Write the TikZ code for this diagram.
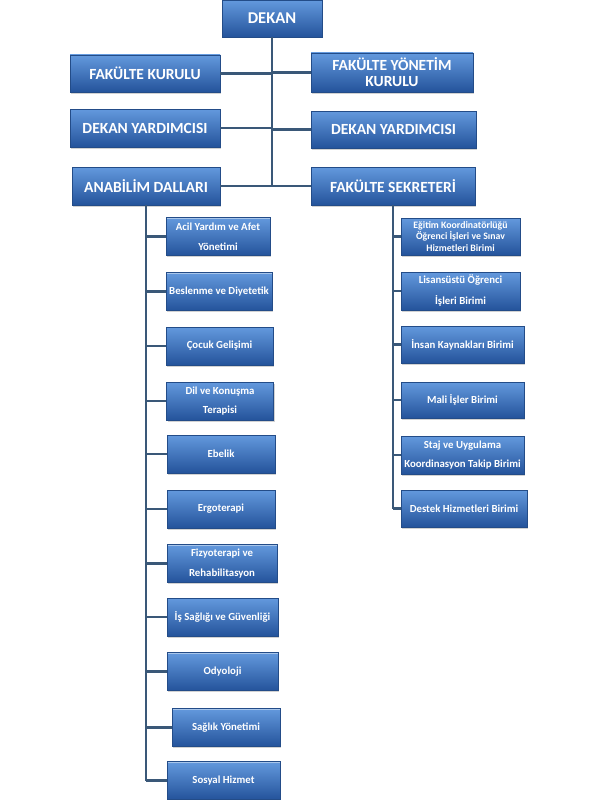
\documentclass[tikz,border=0pt]{standalone}
\usepackage{fontspec}
\setmainfont{Carlito}
\usetikzlibrary{shadows}
\definecolor{boxtop}{HTML}{6399DD}
\definecolor{boxmid}{HTML}{3A73C2}
\definecolor{boxbot}{HTML}{24539B}
\definecolor{boxedge}{HTML}{234C88}
\definecolor{conncol}{HTML}{3A5878}
\tikzset{
  box/.style={rectangle, top color=boxtop, middle color=boxmid, bottom color=boxbot,
    draw=boxedge, line width=0.6pt, text=white, align=center, inner sep=1pt,
    drop shadow={shadow xshift=1.2pt, shadow yshift=-1.5pt, opacity=0.35},
    path picture={\draw[white, opacity=0.45, line width=1pt]
      ([yshift=-0.6pt]path picture bounding box.north west) -- ([yshift=-0.6pt]path picture bounding box.north east);}},
  bigbox/.style={box, font=\fontsize{15.5}{16}\selectfont\bfseries},
  smallbox/.style={box, minimum height=38pt, font=\fontsize{10.8}{19.5}\selectfont\bfseries},
  conn/.style={draw=conncol, line width=2.6pt}
}
\begin{document}
\begin{tikzpicture}[x=1pt,y=-1pt]
\fill[white] (0,0) rectangle (600,800);
\useasboundingbox (0,0) rectangle (600,800);

% header boxes
\node[bigbox, minimum width=100pt, minimum height=37pt, font=\fontsize{16.5}{18}\selectfont\bfseries] (dekan) at (272,18.5) {DEKAN};
\node[bigbox, minimum width=150pt, minimum height=37pt] (fk) at (145,73.5) {FAKÜLTE KURULU};
\node[bigbox, minimum width=162pt, minimum height=39pt, font=\fontsize{15.5}{16}\selectfont\bfseries] (fyk) at (392,72.5) {FAKÜLTE YÖNETİM\\KURULU};
\node[bigbox, minimum width=150pt, minimum height=38pt] (dy1) at (145,128) {DEKAN YARDIMCISI};
\node[bigbox, minimum width=165pt, minimum height=37pt] (dy2) at (393.5,129.5) {DEKAN YARDIMCISI};
\node[bigbox, minimum width=148pt, minimum height=38pt] (ad) at (146,186) {ANABİLİM DALLARI};
\node[bigbox, minimum width=164pt, minimum height=38pt] (fs) at (393,186) {FAKÜLTE SEKRETERİ};

% left column boxes
\node[smallbox, minimum width=104pt] (acil) at (218,236.5) {Acil Yardım ve Afet\\Yönetimi};
\node[smallbox, minimum width=106pt] (bes) at (219,291.5) {Beslenme ve Diyetetik};
\node[smallbox, minimum width=107pt] (coc) at (219.5,346) {Çocuk Gelişimi};
\node[smallbox, minimum width=107pt] (dil) at (220,401) {Dil ve Konuşma\\Terapisi};
\node[smallbox, minimum width=108pt] (ebe) at (221,454) {Ebelik};
\node[smallbox, minimum width=108pt] (erg) at (221,509) {Ergoterapi};
\node[smallbox, minimum width=110pt] (fiz) at (222,563.5) {Fizyoterapi ve\\Rehabilitasyon};
\node[smallbox, minimum width=111pt] (is) at (222.5,617) {İş Sağlığı ve Güvenliği};
\node[smallbox, minimum width=111pt] (ody) at (222.5,671.5) {Odyoloji};
\node[smallbox, minimum width=108pt] (sag) at (226,727.5) {Sağlık Yönetimi};
\node[smallbox, minimum width=113pt] (sos) at (223.5,780.5) {Sosyal Hizmet};

% right column boxes
\node[smallbox, minimum width=119pt, minimum height=37pt, font=\fontsize{9.8}{11.7}\selectfont\bfseries] (egi) at (460.5,236.5) {Eğitim Koordinatörlüğü\\Öğrenci İşleri ve Sınav\\Hizmetleri Birimi};
\node[smallbox, minimum width=119pt, font=\fontsize{10.8}{21}\selectfont\bfseries] (lis) at (460.5,291) {Lisansüstü Öğrenci\\İşleri Birimi};
\node[smallbox, minimum width=123pt, minimum height=37pt] (ins) at (462.5,344.5) {İnsan Kaynakları Birimi};
\node[smallbox, minimum width=123pt, minimum height=36pt] (mal) at (462.5,400) {Mali İşler Birimi};
\node[smallbox, minimum width=123pt] (sta) at (462.5,455) {Staj ve Uygulama\\Koordinasyon Takip Birimi};
\node[smallbox, minimum width=126pt, minimum height=37pt] (des) at (464,508.5) {Destek Hizmetleri Birimi};

% connectors
\draw[conn] (dekan.south) -- (dekan.south |- ad.east);
\draw[conn] (fk.east) -- (fk.east -| dekan.south);
\draw[conn] (fyk.west) -- (fyk.west -| dekan.south);
\draw[conn] (dy1.east) -- (dy1.east -| dekan.south);
\draw[conn] (dy2.west) -- (dy2.west -| dekan.south);
\draw[conn] (ad.east) -- (fs.west);

\draw[conn] (ad.south) -- (ad.south |- sos.west);
\foreach \b in {acil,bes,coc,dil,ebe,erg,fiz,is,ody,sag,sos}
  \draw[conn] (\b.west) -- (\b.west -| ad.south);

\draw[conn] (fs.south) -- (fs.south |- des.west);
\foreach \b in {egi,lis,ins,mal,sta,des}
  \draw[conn] (\b.west) -- (\b.west -| fs.south);
\end{tikzpicture}
\end{document}
